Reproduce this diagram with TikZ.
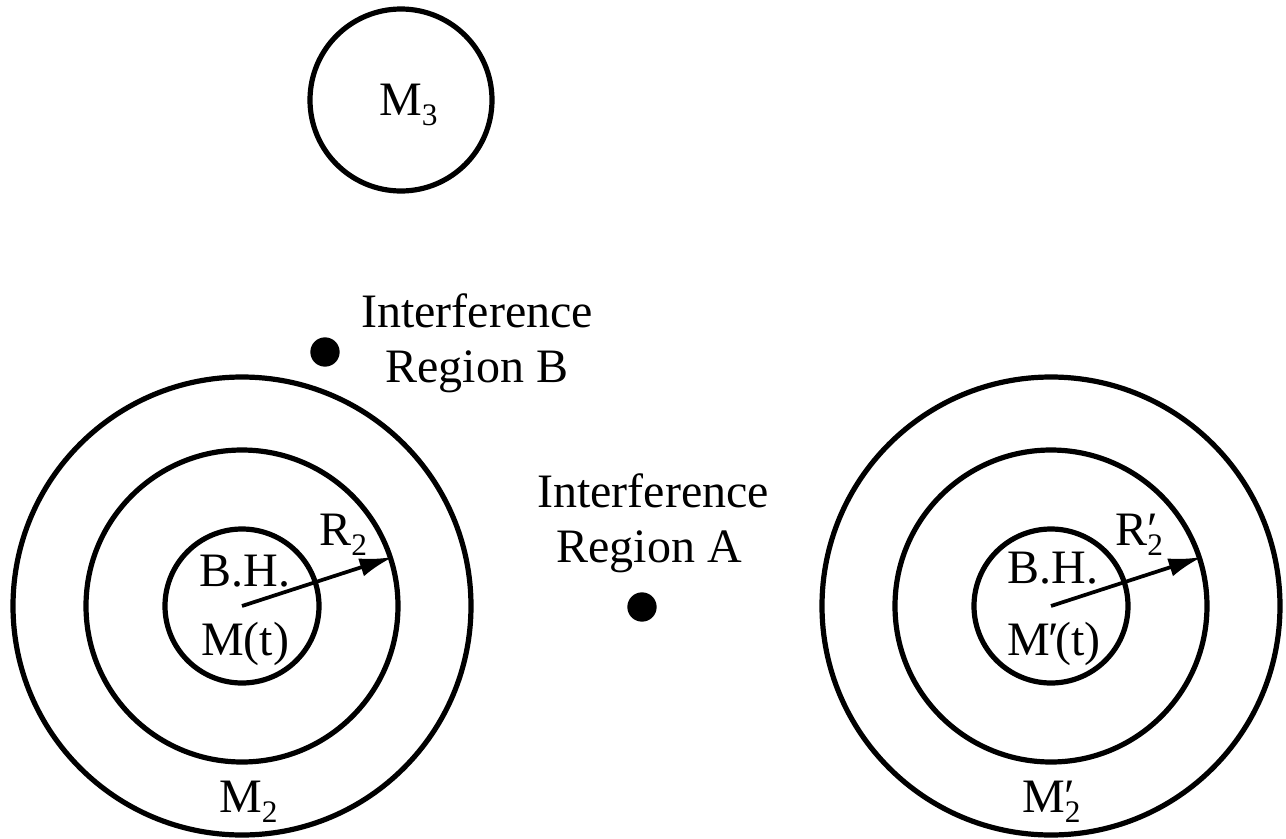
\documentclass[tikz,border=0pt]{standalone}
\usepackage{fontspec}
\setmainfont{Liberation Serif}
\usetikzlibrary{arrows.meta}
\newcommand\mysub[1]{\raisebox{-8pt}{\fontsize{23.5}{23.5}\selectfont #1}}
\begin{document}
\begin{tikzpicture}[x=0.75pt,y=-0.75pt,
  ring/.style={circle,draw,line width=3.9pt,inner sep=0pt},
  blob/.style={circle,fill=black,inner sep=0pt,minimum size=22pt},
  lbl/.style={font=\fontsize{36}{43}\selectfont,inner sep=0pt},
  radarrow/.style={line width=2.8pt,-{Latex[length=25pt,width=14pt]}}]
\useasboundingbox (0,0) rectangle (1286,839);
% left system
\coordinate (cL) at (242,606);
\node[ring,minimum size=343.5pt] (outL) at (cL) {};
\node[ring,minimum size=234pt] (midL) at (cL) {};
\node[ring,minimum size=115.5pt] (inL) at (cL) {};
% right system
\coordinate (cR) at (1051,606);
\node[ring,minimum size=343.5pt] (outR) at (cR) {};
\node[ring,minimum size=234pt] (midR) at (cR) {};
\node[ring,minimum size=115.5pt] (inR) at (cR) {};
% M3
\node[ring,minimum size=136.5pt] (m3) at (401,100) {};
\node[lbl,anchor=base west] (m3lbl) at (379,115) {M\mysub{3}};
% dots
\node[blob] (dotB) at (325,352) {};
\node[blob] (dotA) at (642,607) {};
% arrows
\draw[radarrow] (cL) -- (midL.18);
\draw[radarrow] (cR) -- (midR.18);
% labels left
\node[lbl,anchor=base] (bhL) at (245,586) {B.H.};
\node[lbl,anchor=base] (mtL) at (245,655) {M(t)};
\node[lbl,anchor=base west] (r2L) at (319,545) {R\mysub{2}};
\node[lbl,anchor=base west] (m2L) at (219,812) {M\mysub{2}};
% labels right
\node[lbl,anchor=base] (bhR) at (1053,583) {B.H.};
\node[lbl,anchor=base] (mtR) at (1054,655) {M\kern-0.04em′\kern-0.08em(t)};
\node[lbl,anchor=base west] (r2R) at (1115,545) {R\rlap{′}\mysub{2}};
\node[lbl,anchor=base west] (m2R) at (1022,812) {M\rlap{′}\mysub{2}};
% interference labels
\node[lbl,anchor=base] (ibTop) at (477,327) {Interference};
\node[lbl,anchor=base] (ibBot) at (477,382) {Region B};
\node[lbl,anchor=base] (iaTop) at (653,507) {Interference};
\node[lbl,anchor=base] (iaBot) at (649,562) {Region A};
\end{tikzpicture}
\end{document}
